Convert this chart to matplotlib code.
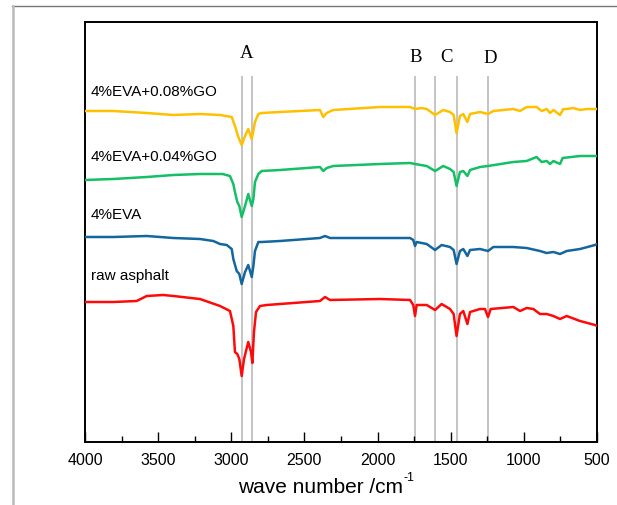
import matplotlib
matplotlib.use('Agg')
import matplotlib.pyplot as plt
from matplotlib.lines import Line2D
from matplotlib.ticker import MultipleLocator

plt.rcParams['font.family'] = ['Liberation Sans', 'DejaVu Sans']

# wavenumber (cm-1) and offset transmittance
wn_go08 = [4000, 3807, 3578, 3396, 3214, 3077, 2997, 2975, 2952, 2929, 2906, 2884, 2860, 2838,
           2815, 2792, 2667, 2394, 2371, 2348, 2303, 1983, 1778, 1744, 1700, 1664, 1607, 1551,
           1505, 1480, 1460, 1437, 1414, 1386, 1368, 1300, 1245, 1209, 1072, 1026, 981, 913,
           878, 844, 821, 798, 753, 730, 707, 662, 616, 570, 514, 500]
t_go08 = [331, 331, 329, 327, 328, 327, 325, 316, 305, 297, 306, 313, 303, 320,
          328, 329, 330, 332, 325, 329, 332, 335, 335, 333, 334, 333, 327, 332,
          330, 327, 309, 326, 328, 320, 328, 330, 328, 331, 333, 331, 335, 335,
          331, 333, 329, 332, 327, 333, 333, 334, 332, 333, 333, 333]

wn_go04 = [4000, 3807, 3578, 3396, 3214, 3123, 3060, 3009, 2986, 2975, 2959, 2945, 2929, 2906,
           2884, 2860, 2849, 2838, 2815, 2792, 2667, 2394, 2371, 2348, 2303, 1983, 1778, 1744,
           1664, 1607, 1551, 1505, 1480, 1460, 1437, 1414, 1386, 1368, 1300, 1245, 1072, 981,
           913, 878, 844, 821, 798, 753, 735, 616, 514, 500]
t_go04 = [262, 263, 265, 267, 268, 268, 268, 266, 258, 250, 240, 236, 225, 236,
          248, 236, 243, 260, 268, 271, 272, 275, 271, 274, 276, 278, 279, 278,
          276, 271, 276, 273, 270, 256, 270, 271, 266, 272, 275, 276, 280, 281,
          285, 280, 281, 278, 281, 278, 284, 286, 286, 286]

wn_eva = [4000, 3807, 3578, 3396, 3214, 3123, 3077, 3031, 2997, 2986, 2963, 2945, 2929, 2906,
          2884, 2860, 2849, 2838, 2815, 2792, 2667, 2394, 2359, 2325, 1983, 1778, 1756, 1744,
          1733, 1664, 1607, 1562, 1505, 1480, 1460, 1437, 1414, 1386, 1368, 1300, 1245, 1209,
          1072, 981, 890, 844, 798, 753, 707, 616, 514, 500]
t_eva = [205, 205, 206, 204, 203, 201, 198, 197, 193, 183, 171, 168, 158, 170,
         177, 165, 176, 191, 200, 200, 201, 204, 206, 204, 204, 204, 202, 196,
         200, 198, 192, 197, 195, 192, 178, 191, 193, 186, 192, 193, 191, 195,
         195, 194, 191, 189, 190, 188, 191, 193, 197, 198]

wn_raw = [4000, 3807, 3647, 3578, 3465, 3396, 3214, 3077, 3009, 2986, 2975, 2959, 2945, 2929,
          2913, 2884, 2865, 2856, 2845, 2831, 2804, 2758, 2667, 2394, 2359, 2325, 1983, 1778,
          1756, 1744, 1733, 1664, 1607, 1562, 1505, 1480, 1460, 1437, 1414, 1386, 1368, 1300,
          1266, 1245, 1227, 1072, 1026, 981, 935, 890, 844, 798, 753, 707, 616, 514, 500]
t_raw = [140, 140, 141, 146, 147, 146, 143, 136, 131, 116, 90, 88, 83, 66,
         83, 100, 90, 79, 110, 130, 136, 137, 138, 141, 145, 142, 143, 142,
         137, 126, 137, 137, 132, 138, 133, 128, 106, 128, 131, 118, 130, 133,
         133, 125, 133, 135, 131, 134, 133, 128, 128, 126, 123, 126, 121, 117, 116]

series = [
    ('4%EVA+0.08%GO', wn_go08, t_go08, '#FFC000', 351),
    ('4%EVA+0.04%GO', wn_go04, t_go04, '#14BF66', 286),
    ('4%EVA', wn_eva, t_eva, '#13679E', 228),
    ('raw asphalt', wn_raw, t_raw, '#FF0A0A', 167),
]

peak_lines = [2926, 2855, 1743, 1605, 1459, 1245]
peak_labels = [('A', 2895, 389), ('B', 1742, 385), ('C', 1532, 385), ('D', 1231, 384)]

fig = plt.figure(figsize=(6.17, 5.06), dpi=100)
ax = fig.add_axes([85 / 617, 63 / 506, 512 / 617, 420 / 506])

for x in peak_lines:
    ax.axvline(x, ymin=0, ymax=365 / 420, color='#c4c4c4', lw=1.4, zorder=1)

for name, x, y, c, ty in series:
    ax.plot(x, y, color=c, lw=1.8, zorder=3)
    ax.text(3960, ty, name, fontsize=11, va='center', ha='left')

for lab, x, y in peak_labels:
    ax.text(x, y, lab, fontsize=13.5, ha='center', va='center',
            family=['Liberation Serif', 'DejaVu Serif'])

ax.set_xlim(4000, 500)
ax.set_ylim(0, 420)
ax.set_yticks([])
ax.xaxis.set_major_locator(MultipleLocator(500))
ax.xaxis.set_minor_locator(MultipleLocator(250))
ax.tick_params(axis='x', which='major', direction='in', length=7, width=1, labelsize=11.5, pad=7)
ax.tick_params(axis='x', which='minor', direction='in', length=4, width=1)
for s in ax.spines.values():
    s.set_linewidth(1.4)

# x label with a plain hyphen superscript
fig.text(238 / 617, 1 - 488 / 506, 'wave number /cm', fontsize=15, ha='left', va='center')
fig.text(403 / 617, 1 - 478 / 506, '-1', fontsize=9, ha='left', va='center')

# outer frame lines
fig.add_artist(Line2D([12 / 617, 1], [1 - 7 / 506] * 2, color='#777777', lw=1))
fig.add_artist(Line2D([13 / 617] * 2, [0, 1 - 7 / 506], color='#bbbbbb', lw=1.8))

fig.savefig('out.png', dpi=100)
